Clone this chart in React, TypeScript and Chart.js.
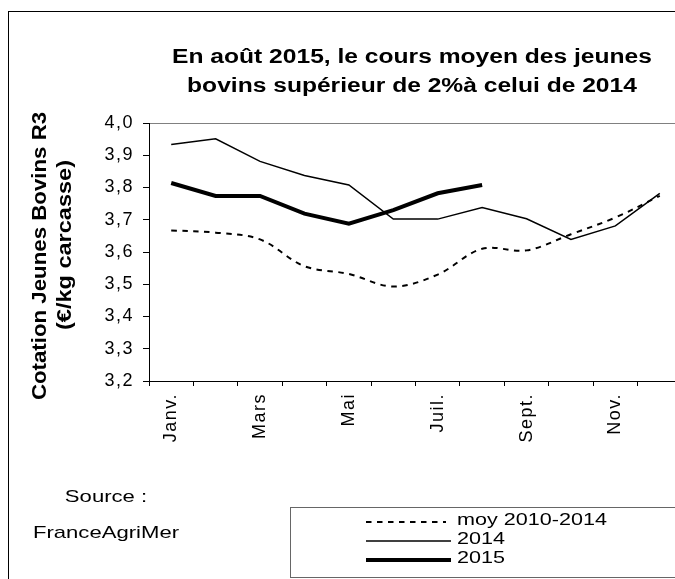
import React, { useEffect, useRef } from "react";
import { Chart, registerables } from "chart.js";

Chart.register(...registerables);

const months = ["Janv.", "Févr.", "Mars", "Avr.", "Mai", "Juin", "Juil.", "Août", "Sept.", "Oct.", "Nov.", "Déc."];
const moy20102014 = [3.667, 3.66, 3.639, 3.556, 3.532, 3.493, 3.53, 3.61, 3.605, 3.655, 3.707, 3.774];
const y2014 = [3.933, 3.951, 3.881, 3.837, 3.808, 3.702, 3.702, 3.738, 3.703, 3.639, 3.681, 3.782];
const y2015 = [3.814, 3.774, 3.774, 3.719, 3.688, 3.73, 3.782, 3.808, null, null, null, null];
const yMin = 3.2;
const yMax = 4.0;
const yStep = 0.1;
const titleLines = ["En août 2015, le cours moyen des jeunes", "bovins supérieur de 2%à celui de 2014"];
const yTitleLines = ["Cotation Jeunes Bovins R3", "(€/kg carcasse)"];
const sourceLines = ["Source :", "FranceAgriMer"];
const legendLabels = ["moy 2010-2014", "2014", "2015"];

const W = 720;
const H = 620;
const FONT = "'Liberation Sans', Arial, sans-serif";

function drawText(ctx: any, text: string, x: number, y: number, font: string, sx: number, rot = 0, align = "center") {
  ctx.save();
  ctx.translate(x, y);
  if (rot) ctx.rotate(rot);
  ctx.scale(sx, 1);
  ctx.font = font;
  ctx.textAlign = align;
  ctx.textBaseline = "middle";
  ctx.fillStyle = "#000";
  ctx.fillText(text, 0, 0);
  ctx.restore();
}

const decorPlugin = {
  id: "decor",
  beforeDraw(chart: any) {
    const ctx = chart.ctx;
    ctx.save();
    ctx.fillStyle = "#fff";
    ctx.fillRect(0, 0, W, H);
    ctx.strokeStyle = "#000";
    ctx.lineWidth = 1;
    ctx.strokeRect(8.5, 11.5, 800, 800);
    ctx.restore();
    ctx.letterSpacing = "1.5px";
  },
  afterDraw(chart: any) {
    const ctx = chart.ctx;
    ctx.letterSpacing = "0px";
    ctx.save();
    // Title
    const tf = `bold 20px ${FONT}`;
    drawText(ctx, titleLines[0], 412, 57, tf, 1.23);
    drawText(ctx, titleLines[1], 412, 86, tf, 1.23);
    // Y title
    const yf = `bold 21px ${FONT}`;
    drawText(ctx, yTitleLines[0], 40, 256, yf, 1.06, -Math.PI / 2);
    drawText(ctx, yTitleLines[1], 65, 245, yf, 1.12, -Math.PI / 2);
    // Source
    const sf = `17px ${FONT}`;
    drawText(ctx, sourceLines[0], 106, 497, sf, 1.3);
    drawText(ctx, sourceLines[1], 106, 533, sf, 1.3);
    // Legend box
    ctx.strokeStyle = "#666";
    ctx.lineWidth = 1;
    ctx.strokeRect(290.5, 507.5, 500, 70);
    const ds = chart.data.datasets;
    const lineRows = [522, 541, 560];
    const textRows = [520, 539, 558];
    for (let i = 0; i < 3; i++) {
      const d = ds[i];
      ctx.save();
      ctx.strokeStyle = "#000";
      ctx.lineWidth = d.borderWidth;
      ctx.setLineDash(d.borderDash || []);
      ctx.beginPath();
      ctx.moveTo(366, lineRows[i]);
      ctx.lineTo(i === 0 ? 446 : 451, lineRows[i]);
      ctx.stroke();
      ctx.restore();
      drawText(ctx, legendLabels[i], 457, textRows[i], sf, 1.27, 0, "left");
    }
    ctx.restore();
  },
};

export default function App() {
  const ref = useRef<HTMLCanvasElement>(null);
  useEffect(() => {
    const canvas = ref.current!;
    const chart = new Chart(canvas, {
      type: "line",
      data: {
        labels: months,
        datasets: [
          {
            label: legendLabels[0],
            data: moy20102014,
            borderColor: "#000",
            borderWidth: 2,
            borderDash: [5.5, 5.5],
            pointRadius: 0,
            tension: 0.35,
            fill: false,
          },
          {
            label: legendLabels[1],
            data: y2014,
            borderColor: "#000",
            borderWidth: 1.5,
            pointRadius: 0,
            tension: 0,
            fill: false,
          },
          {
            label: legendLabels[2],
            data: y2015,
            borderColor: "#000",
            borderWidth: 4,
            pointRadius: 0,
            tension: 0,
            fill: false,
            spanGaps: false,
          },
        ],
      },
      options: {
        animation: false,
        responsive: false,
        devicePixelRatio: 1,
        layout: { padding: { left: 99, right: W - 682, top: 123, bottom: H - 381 - 90 } },
        plugins: { legend: { display: false }, title: { display: false }, tooltip: { enabled: false } },
        scales: {
          x: {
            type: "category",
            offset: true,
            afterFit: (s: any) => { s.height = 90; },
            grid: {
              offset: true,
              drawOnChartArea: false,
              drawTicks: true,
              tickLength: 5,
              tickColor: "#000",
              color: "#000",
            },
            border: { display: true, color: "#000", width: 1 },
            ticks: {
              autoSkip: false,
              maxRotation: 90,
              minRotation: 90,
              color: "#000",
              font: { family: FONT, size: 18 },
              padding: 7,
              callback: (v: any, i: number) => (i % 2 === 0 ? months[i] : ""),
            },
          },
          y: {
            min: yMin,
            max: yMax,
            afterFit: (s: any) => { s.width = 50; },
            grid: {
              drawTicks: true,
              tickLength: 6,
              tickColor: "#000",
              color: (c: any) => (c.tick && Math.abs(c.tick.value - yMax) < 1e-6 ? "#808080" : "rgba(0,0,0,0)"),
            },
            border: { display: true, color: "#000", width: 1 },
            ticks: {
              stepSize: yStep,
              color: "#000",
              font: { family: FONT, size: 18 },
              padding: 9,
              callback: (v: any) => Number(v).toFixed(1).replace(".", ","),
            },
          },
        },
      },
      plugins: [decorPlugin],
    });
    return () => chart.destroy();
  }, []);
  return (
    <div style={{ position: "fixed", left: 0, top: 0, width: 675, height: 579, overflow: "hidden", background: "#fff" }}>
      <canvas ref={ref} width={W} height={H} style={{ width: W, height: H, display: "block" }} />
    </div>
  );
}
